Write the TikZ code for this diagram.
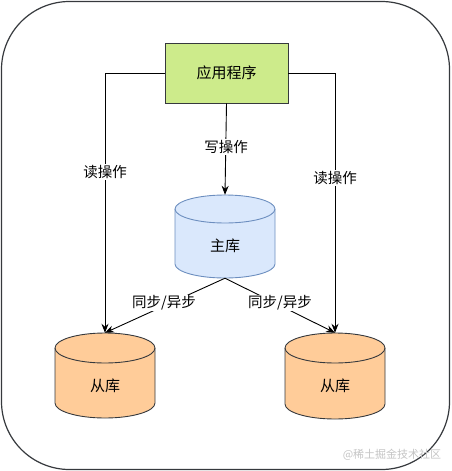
\documentclass[tikz,border=0pt]{standalone}
\usepackage{fontspec}
\setmainfont{Noto Sans CJK SC}
\usetikzlibrary{arrows.meta}
\definecolor{appfill}{HTML}{CDEB8B}
\definecolor{darkline}{HTML}{36393D}
\definecolor{mfill}{HTML}{DAE8FC}
\definecolor{mline}{HTML}{6C8EBF}
\definecolor{sfill}{HTML}{FFCC99}
\definecolor{wmark}{HTML}{C4C4C4}
\newcommand{\cylshape}[6]{% cx, top, bottom, rx, ry, style
  \path[#6] (#1-#4,#2+#5) -- (#1-#4,#3-#5)
    arc[start angle=180,end angle=0,x radius=#4,y radius=#5]
    -- (#1+#4,#2+#5)
    arc[start angle=0,end angle=-180,x radius=#4,y radius=#5] -- cycle;
  \draw[#6,fill=none] (#1-#4,#2+#5)
    arc[start angle=180,end angle=0,x radius=#4,y radius=#5];
}
\begin{document}
\begin{tikzpicture}[x=1pt,y=-1pt,
  txt/.style={font=\fontsize{15}{17}\selectfont},
  lbl/.style={font=\fontsize{14.5}{17}\selectfont,fill=white,inner sep=1pt},
  conn/.style={draw=black,line width=0.9pt,-{Stealth[length=9pt,width=7pt]}},
  box/.style={inner sep=0pt,minimum width=#1}]
\useasboundingbox (0,0) rectangle (451,471);
\draw[line width=1.2pt,draw=darkline,rounded corners=68pt] (1.5,1.5) rectangle (449.5,469.5);
% application
\node[draw=darkline,fill=appfill,line width=0.9pt,minimum width=123pt,minimum height=60pt,inner sep=0pt,txt] (app) at (226.5,73) {应用程序};
% cylinders
\cylshape{225}{195}{278}{50}{14}{fill=mfill,draw=mline,line width=0.9pt}
\cylshape{105}{333}{418}{50}{15}{fill=sfill,draw=darkline,line width=0.9pt}
\cylshape{335}{333}{419}{50}{15}{fill=sfill,draw=darkline,line width=0.9pt}
\node[minimum width=100pt,minimum height=83pt,inner sep=0pt] (master) at (225,236.5) {};
\node[txt] (mtext) at (225,246) {主库};
\node[minimum width=100pt,minimum height=85pt,inner sep=0pt] (s1) at (105,375.5) {};
\node[txt] (s1text) at (105,386) {从库};
\node[minimum width=100pt,minimum height=86pt,inner sep=0pt] (s2) at (335,376) {};
\node[txt] (s2text) at (335,386) {从库};
% connectors
\coordinate (lc) at (105,73);
\coordinate (rc) at (335,73);
\draw[conn] (app.west) -- (lc) -- (s1.north);
\draw[conn] (app.east) -- (rc) -- (s2.north);
\draw[conn] (app.south) -- (master.north);
\draw[conn] (master.south) -- (s1.north);
\draw[conn] (master.south) -- (s2.north);
% labels
\node[lbl] (lw) at (226,147) {写操作};
\node[lbl] (lr1) at (105,172) {读操作};
\node[lbl] (lr2) at (335,178) {读操作};
\node[lbl] (ls1) at (164,303) {同步/异步};
\node[lbl] (ls2) at (280,303) {同步/异步};
\node[font=\fontsize{11}{13}\selectfont,text=wmark,inner sep=0pt] (wm) at (392,455) {@稀土掘金技术社区};
\end{tikzpicture}
\end{document}
